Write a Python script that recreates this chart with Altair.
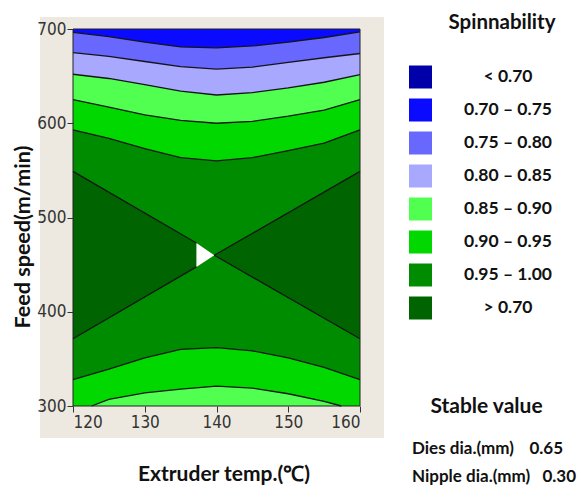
import altair as alt
import pandas as pd

# ---------------- data ----------------
x_domain = [120, 160]
y_domain = [300, 700]
x_ticks = [120, 130, 140, 150, 160]
y_ticks = [300, 400, 500, 600, 700]

legend_labels = ["< 0.70", "0.70 – 0.75", "0.75 – 0.80", "0.80 – 0.85",
                 "0.85 – 0.90", "0.90 – 0.95", "0.95 – 1.00", "> 0.70"]
legend_colors = ["#0000AA", "#0A0AFF", "#6868FF", "#A8A8FF",
                 "#50FF50", "#00D800", "#008C00", "#006400"]

# contour lines (feed speed at each extruder temperature)
grid_x = [120, 125, 130, 135, 140, 145, 150, 155, 160]
upper_075 = [696.5, 692, 686, 681, 680, 682, 686, 691, 697]
upper_080 = [675, 671, 665.5, 660, 657.5, 659.5, 664.5, 669.5, 674]
upper_085 = [652, 647.5, 641, 634, 630, 632.5, 637.5, 643.5, 651.5]
upper_090 = [625, 617, 609, 603, 600, 602, 607.5, 614, 625]
upper_095 = [593, 584, 573, 563.5, 560, 563.5, 571, 579, 593]
lower_095 = [328, 339, 351, 360, 362, 358.5, 351, 341, 328]
lower_090_x = [122.6, 125, 130, 135, 140, 145, 150, 155, 157.4]
lower_090 = [300, 307, 314, 318, 321, 319, 313, 305, 300]

left_x = [120, 137.2]
left_low = [371.3, 447.6]
left_high = [548.9, 473]
right_x = [139.7, 160]
right_low = [459.9, 371.3]
right_high = [459.9, 548.9]
gap_x = [137.2, 139.7]
gap_low = [447.6, 459.9]
gap_high = [473, 459.9]

legend_title = "Spinnability"
stable_title = "Stable value"
stable_names = ["Dies dia.(mm)", "Nipple dia.(mm)"]
stable_values = ["0.65", "0.30"]
x_title = "Extruder temp.(℃)"
y_title = "Feed speed(m/min)"

# ---------------- chart ----------------
W, H = 287, 377
TXT = "Lato"
NARROW = "Liberation Sans Narrow, Arial Narrow, DejaVu Sans Condensed, sans-serif"

color_scale = alt.Scale(domain=legend_labels, range=legend_colors)

X = alt.X("x:Q", scale=alt.Scale(domain=x_domain, nice=False, zero=False),
          axis=alt.Axis(values=x_ticks, format="d", title=x_title, grid=False, domain=False,
                        zindex=2,
                        labelFont=NARROW, labelFontSize=17, labelColor="#333",
                        labelPadding=2, tickSize=6, tickColor="#333",
                        titleFont=TXT, titleFontSize=21, titleFontWeight="bold",
                        titleColor="#111", titleX=150.5, titleY=74,
                        titleAlign="center", titleBaseline="alphabetic"))
Y = alt.Y("y:Q", stack=None, scale=alt.Scale(domain=y_domain, nice=False, zero=False),
          axis=alt.Axis(values=y_ticks, format="d", title=y_title, grid=False, domain=False,
                        zindex=2,
                        labelFont=NARROW, labelFontSize=17, labelColor="#333",
                        labelPadding=1, tickSize=6, tickColor="#333",
                        titleFont=TXT, titleFontSize=21.5, titleFontWeight="bold",
                        titleColor="#111", titleX=-43.5, titleY=207.5, titleAngle=-90,
                        titleAlign="center", titleBaseline="alphabetic"))
Y2 = alt.Y2("y2:Q")

one = pd.DataFrame({"a": [0]})

panel = alt.Chart(one).mark_rect(color="#EDE9E0").encode(
    x=alt.value(-33), x2=alt.value(311), y=alt.value(-12), y2=alt.value(409))

n = len(grid_x)
regions = [
    ("0.95 – 1.00", x_domain, [y_domain[0]] * 2, [y_domain[1]] * 2),
    ("0.90 – 0.95", grid_x, upper_095, [y_domain[1]] * n),
    ("0.85 – 0.90", grid_x, upper_090, [y_domain[1]] * n),
    ("0.80 – 0.85", grid_x, upper_085, [y_domain[1]] * n),
    ("0.75 – 0.80", grid_x, upper_080, [y_domain[1]] * n),
    ("0.70 – 0.75", grid_x, upper_075, [y_domain[1]] * n),
    ("0.90 – 0.95", grid_x, [y_domain[0]] * n, lower_095),
    ("0.85 – 0.90", lower_090_x, [y_domain[0]] * len(lower_090_x), lower_090),
    ("> 0.70", left_x, left_low, left_high),
    ("> 0.70", right_x, right_low, right_high),
]

area_layers = []
for band, xs, lo, hi in regions:
    df = pd.DataFrame({"x": xs, "y": lo, "y2": hi, "band": [band] * len(xs)})
    area_layers.append(
        alt.Chart(df).mark_area(opacity=1, interpolate="linear").encode(
            x=X, y=Y, y2=Y2,
            color=alt.Color("band:N", scale=color_scale, legend=None)))

gap_df = pd.DataFrame({"x": gap_x, "y": gap_low, "y2": gap_high})
gap_layer = alt.Chart(gap_df).mark_area(color="white", opacity=1).encode(x=X, y=Y, y2=Y2)

lines = [
    (grid_x, upper_075), (grid_x, upper_080), (grid_x, upper_085),
    (grid_x, upper_090), (grid_x, upper_095), (grid_x, lower_095),
    (lower_090_x, lower_090), (left_x, left_low), (left_x, left_high),
    (right_x, right_low), (right_x, right_high),
]
rows = []
for i, (xs, ys) in enumerate(lines):
    for xv, yv in zip(xs, ys):
        rows.append({"x": xv, "y": yv, "line": i})
lines_df = pd.DataFrame(rows)
line_layer = alt.Chart(lines_df).mark_line(color="#151515", strokeWidth=1.3).encode(
    x=X, y=Y, detail="line:N")

frame_df = pd.DataFrame({"x": [x_domain[0]], "x2": [x_domain[1]],
                         "y": [y_domain[0]], "y2": [y_domain[1]]})
frame = alt.Chart(frame_df).mark_rect(filled=False, stroke="#222", strokeWidth=1).encode(
    x=X, x2=alt.X2("x2:Q"), y=Y, y2=Y2)

contour = alt.layer(panel, *area_layers, gap_layer, line_layer, frame)

# ---------------- legend & notes ----------------
leg_df = pd.DataFrame({"band": legend_labels})
LY = alt.Y("band:N", sort=legend_labels, axis=None,
           scale=alt.Scale(type="point", domain=legend_labels, range=[48, 279], padding=0))
squares = alt.Chart(leg_df).mark_square(size=529, opacity=1).encode(
    x=alt.value(347.5), y=LY,
    color=alt.Color("band:N", scale=color_scale, legend=None))
labels = alt.Chart(leg_df).mark_text(font=TXT, fontSize=17.5, fontWeight="bold",
                                     color="#111", align="center", baseline="middle").encode(
    x=alt.value(435), y=LY, text="band:N")

title_txt = alt.Chart(one).mark_text(font=TXT, fontSize=20.5, fontWeight="bold", color="#111",
                                     align="center", baseline="alphabetic").encode(
    x=alt.value(429), y=alt.value(0), text=alt.value(legend_title))
stable_txt = alt.Chart(one).mark_text(font=TXT, fontSize=21, fontWeight="bold", color="#111",
                                      align="center", baseline="alphabetic").encode(
    x=alt.value(413.5), y=alt.value(384), text=alt.value(stable_title))

note_style = dict(font=TXT, fontSize=17, fontWeight="bold", color="#111",
                  baseline="alphabetic")
note_layers = []
value_right = [490, 503]
for i, (name, val) in enumerate(zip(stable_names, stable_values)):
    yy = 425 + i * 27.7
    note_layers.append(alt.Chart(one).mark_text(align="left", **note_style).encode(
        x=alt.value(339), y=alt.value(yy), text=alt.value(name)))
    note_layers.append(alt.Chart(one).mark_text(align="right", **note_style).encode(
        x=alt.value(value_right[i]), y=alt.value(yy), text=alt.value(val)))

legend = alt.layer(squares, labels, title_txt, stable_txt, *note_layers)

chart = alt.layer(contour, legend).resolve_scale(
    x="independent", y="independent"
).properties(
    width=W, height=H,
    padding={"left": 65, "top": 21, "right": 217, "bottom": 82},
    autosize=alt.AutoSizeParams(type="none"),
    background="white",
).configure_view(stroke=None)

chart.save("out.html", embed_options={"renderer": "svg", "actions": False})
